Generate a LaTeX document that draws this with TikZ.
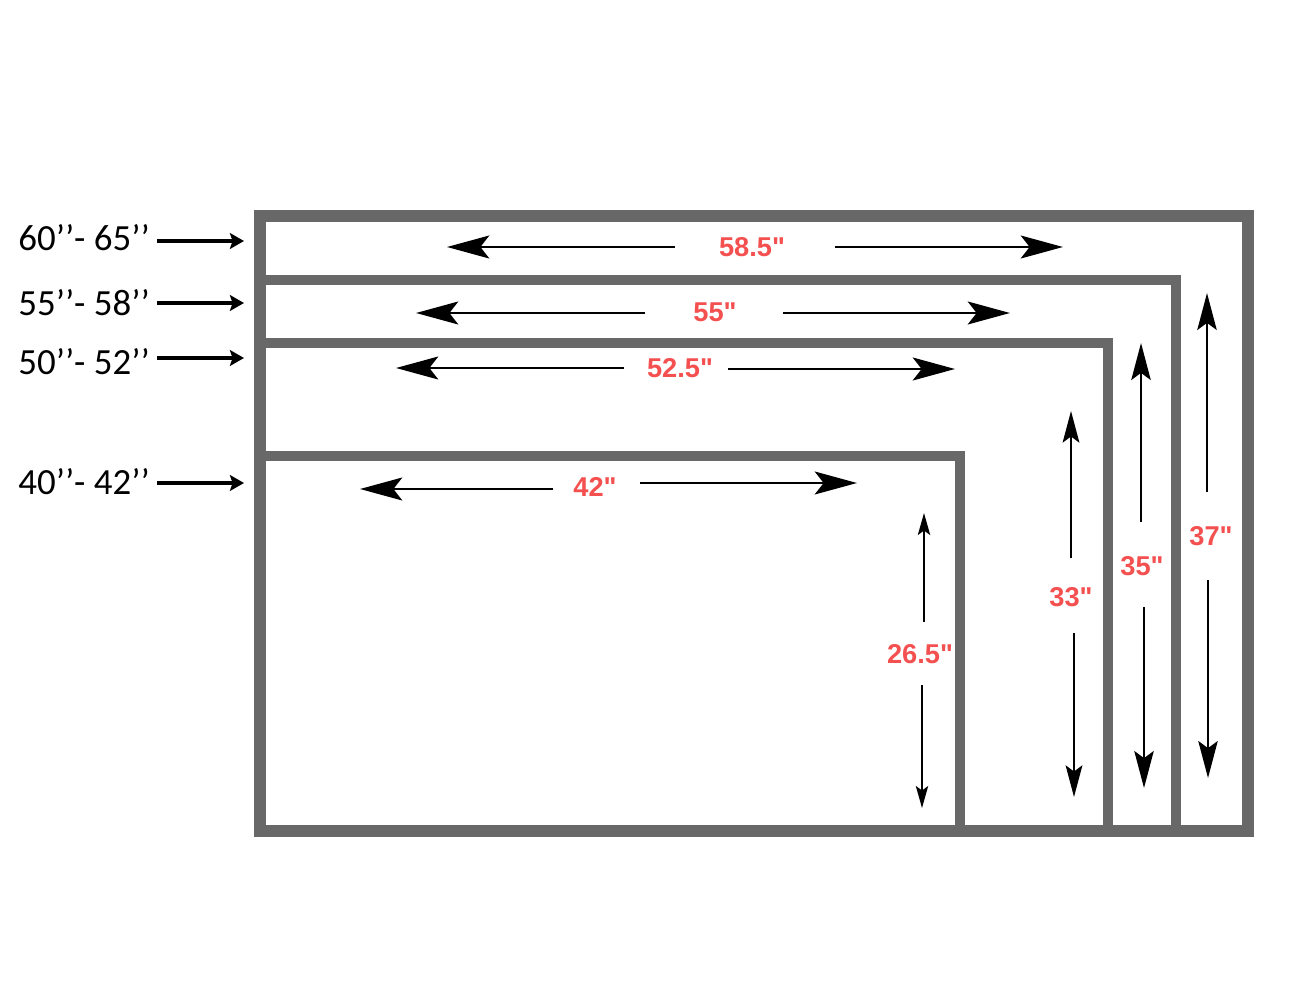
\documentclass[tikz,border=0pt]{standalone}
\usepackage{fontspec}
\setmainfont{Carlito}
\newfontfamily\dimfont{Liberation Sans}
\usepackage{tikz}
\usetikzlibrary{arrows.meta}
\definecolor{framegray}{RGB}{104,104,104}
\definecolor{dimred}{RGB}{244,80,80}

\begin{document}
\begin{tikzpicture}[x=0.02cm, y=-0.02cm,
    frame/.style={draw=framegray, line width=7.2pt},
    wall/.style={draw=framegray, line width=5.7pt},
    sizelabel/.style={anchor=east, inner sep=0pt, font=\fontsize{21}{24}\selectfont},
    sizearrow/.style={-{Stealth[length=8pt,width=9pt,inset=1.5pt]}, line width=2.2pt},
    dimlabel/.style={text=dimred, inner sep=0pt, font=\dimfont\bfseries\fontsize{15.5}{18}\selectfont},
    hdim/.style={-{Stealth[length=24pt,width=13pt,inset=5pt]}, line width=1.7pt},
    vdim/.style={-{Stealth[length=21pt,width=11pt,inset=4pt]}, line width=1.6pt},
    vdimmid/.style={-{Stealth[length=18pt,width=9.5pt,inset=3.5pt]}, line width=1.3pt},
    vdimsmall/.style={-{Stealth[length=12.5pt,width=7pt,inset=2.5pt]}, line width=1.1pt}]
        \useasboundingbox (0,0) rectangle (1304,980);

        % Inner screens
        \draw[wall] (260,280) -- (1176,280) -- (1176,831);
        \draw[wall] (260,343) -- (1108,343) -- (1108,831);
        \draw[wall] (260,456) -- (960,456) -- (960,831);

        % Outer frame
        \draw[frame] (260,216) rectangle (1248,831);

        % Screen sizes
        \node[sizelabel] (s60) at (150,238) {60’’- 65’’};
        \node[sizelabel] (s55) at (150,303) {55’’- 58’’};
        \node[sizelabel] (s50) at (150,362) {50’’- 52’’};
        \node[sizelabel] (s40) at (150,482) {40’’- 42’’};

        \coordinate (f60) at (244,241);
        \coordinate (f55) at (244,303);
        \coordinate (f50) at (244,358);
        \coordinate (f40) at (244,483);

        \draw[sizearrow] ([xshift=4pt]s60.east |- f60) -- (f60);
        \draw[sizearrow] ([xshift=4pt]s55.east |- f55) -- (f55);
        \draw[sizearrow] ([xshift=4pt]s50.east |- f50) -- (f50);
        \draw[sizearrow] ([xshift=4pt]s40.east |- f40) -- (f40);

        % Widths
        \node[dimlabel] (w585) at (752,247) {58.5\textquotedbl};
        \draw[hdim] (675,247) -- (447,247);
        \draw[hdim] (835,247) -- (1063,247);

        \node[dimlabel] (w55) at (715,312) {55\textquotedbl};
        \draw[hdim] (645,313) -- (416,313);
        \draw[hdim] (783,313) -- (1010,313);

        \node[dimlabel] (w525) at (680,368) {52.5\textquotedbl};
        \draw[hdim] (624,368) -- (396,368);
        \draw[hdim] (728,369) -- (955,369);

        \node[dimlabel] (w42) at (595,487) {42\textquotedbl};
        \draw[hdim] (553,489) -- (360,489);
        \draw[hdim] (640,483) -- (857,483);

        % Heights
        \node[dimlabel] (h37) at (1211,536) {37\textquotedbl};
        \draw[vdim] (1207,492) -- (1207,293);
        \draw[vdim] (1208,580) -- (1208,778);

        \node[dimlabel] (h35) at (1142,566) {35\textquotedbl};
        \draw[vdim] (1141,522) -- (1141,343);
        \draw[vdim] (1144,607) -- (1144,788);

        \node[dimlabel] (h33) at (1071,597) {33\textquotedbl};
        \draw[vdimmid] (1071,558) -- (1071,411);
        \draw[vdimmid] (1074,633) -- (1074,797);

        \node[dimlabel] (h265) at (920,654) {26.5\textquotedbl};
        \draw[vdimsmall] (924,622) -- (924,513);
        \draw[vdimsmall] (922,685) -- (922,808);
    \end{tikzpicture}
\end{document}
